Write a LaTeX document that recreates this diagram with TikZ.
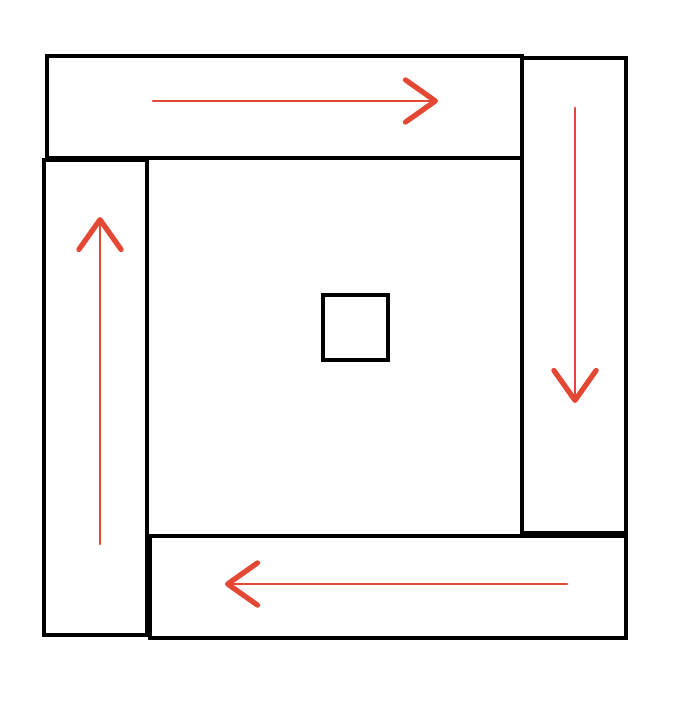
\documentclass[tikz,border=0pt]{standalone}
\usetikzlibrary{arrows.meta}

\definecolor{penred}{RGB}{226,72,52}

\begin{document}
\begin{tikzpicture}[x=0.02cm,y=-0.02cm,
    bar/.style={draw=black,line width=1.8pt},
    flow/.style={penred,line width=1.6pt,line cap=round,
      -{Straight Barb[length=17pt,width=24pt,line width=3pt,round]}}]
      \useasboundingbox (0,0) rectangle (686,715);

      % the four bars and the hub
      \draw[bar] (47,56) rectangle (522,158);
      \draw[bar] (522,58) rectangle (626,533);
      \draw[bar] (150,536) rectangle (626,638);
      \draw[bar] (44,160) rectangle (147,635);
      \draw[bar] (323,295) rectangle (388,360);

      \coordinate (t0) at (153,101);
      \coordinate (t1) at (438,101);
      \coordinate (r0) at (575,108);
      \coordinate (r1) at (575,403);
      \coordinate (b0) at (567,584);
      \coordinate (b1) at (225,584);
      \coordinate (l0) at (100,544);
      \coordinate (l1) at (100,217);

      \draw[flow] (t0) -- (t1);
      \draw[flow] (r0) -- (r1);
      \draw[flow] (b0) -- (b1);
      \draw[flow] (l0) -- (l1);
    \end{tikzpicture}
\end{document}
